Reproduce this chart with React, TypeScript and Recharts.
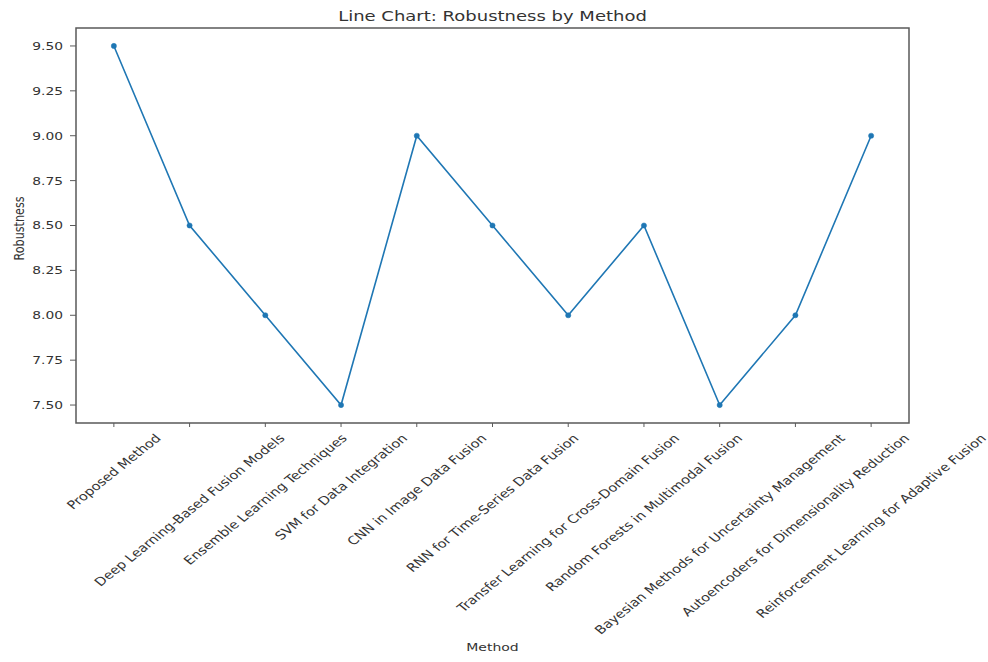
import React from "react";
import {
  LineChart,
  Line,
  XAxis,
  YAxis,
  ReferenceArea,
  Label,
} from "recharts";

// Methods along the x axis, in plotted order
const methods = [
  "Proposed Method",
  "Deep Learning-Based Fusion Models",
  "Ensemble Learning Techniques",
  "SVM for Data Integration",
  "CNN in Image Data Fusion",
  "RNN for Time-Series Data Fusion",
  "Transfer Learning for Cross-Domain Fusion",
  "Random Forests in Multimodal Fusion",
  "Bayesian Methods for Uncertainty Management",
  "Autoencoders for Dimensionality Reduction",
  "Reinforcement Learning for Adaptive Fusion",
];

const robustness = [9.5, 8.5, 8.0, 7.5, 9.0, 8.5, 8.0, 8.5, 7.5, 8.0, 9.0];

const yTicks = [7.5, 7.75, 8.0, 8.25, 8.5, 8.75, 9.0, 9.25, 9.5];

const data = methods.map((name, i) => ({ idx: i, name, robustness: robustness[i] }));
const xTicks = methods.map((_, i) => i);

const FONT = '"DejaVu Sans", Verdana, sans-serif';
const TEXT = "#333";
const FRAME = "#5a5a5a";
const LINE = "#1f77b4";
const XTICK_PX = 14.5;
const YTICK_PX = 13.8;
const LABEL_PX = 14;
const TITLE_PX = 18;
// text is drawn a little flattened vertically
const SQUASH = 0.8;

let measureCtx: CanvasRenderingContext2D | null = null;
function textWidth(s: string, size: number) {
  if (!measureCtx) measureCtx = document.createElement("canvas").getContext("2d");
  if (!measureCtx) return s.length * size * 0.6;
  measureCtx.font = `${size}px ${FONT}`;
  return measureCtx.measureText(s).width;
}

// slanted label whose bounding box is centred on the tick
function SlantTick(props: any) {
  const { x, y, payload } = props;
  const label = methods[payload.value] ?? "";
  const w = textWidth(label, XTICK_PX);
  const boxH = (w + XTICK_PX) * Math.SQRT1_2 * SQUASH;
  const cy = y + boxH / 2;
  return (
    <text
      x={0}
      y={0}
      textAnchor="middle"
      dominantBaseline="central"
      fontFamily={FONT}
      fontSize={XTICK_PX}
      fill={TEXT}
      transform={`translate(${x}, ${cy}) scale(1, ${SQUASH}) rotate(-45)`}
    >
      {label}
    </text>
  );
}

function ValueTick(props: any) {
  const { x, y, payload } = props;
  return (
    <text
      x={0}
      y={0}
      textAnchor="end"
      dominantBaseline="central"
      fontFamily={FONT}
      fontSize={YTICK_PX}
      fill={TEXT}
      transform={`translate(${x}, ${y}) scale(1, ${SQUASH})`}
    >
      {Number(payload.value).toFixed(2)}
    </text>
  );
}

function XTitle(props: any) {
  const { x, y, width, height } = props.viewBox;
  return (
    <text
      x={0}
      y={0}
      textAnchor="middle"
      dominantBaseline="central"
      fontFamily={FONT}
      fontSize={LABEL_PX}
      fill={TEXT}
      transform={`translate(${x + width / 2}, ${y + height - 15}) scale(1, ${SQUASH})`}
    >
      Method
    </text>
  );
}

function YTitle(props: any) {
  const { x, y, height } = props.viewBox;
  return (
    <text
      x={0}
      y={0}
      textAnchor="middle"
      dominantBaseline="central"
      fontFamily={FONT}
      fontSize={LABEL_PX}
      fill={TEXT}
      transform={`translate(${x + 19}, ${y + height / 2 + 3}) scale(1, ${SQUASH}) rotate(-90)`}
    >
      Robustness
    </text>
  );
}

export default function App() {
  return (
    <div style={{ position: "absolute", left: 0, top: 0, width: 988, height: 662, background: "#fff" }}>
      <div
        style={{
          position: "absolute",
          left: 0,
          top: 4,
          width: 985,
          height: 24,
          textAlign: "center",
          fontFamily: FONT,
          fontSize: TITLE_PX,
          lineHeight: "24px",
          color: TEXT,
          transform: `scaleY(${SQUASH})`,
        }}
      >
        Line Chart: Robustness by Method
      </div>
      <LineChart
        width={988}
        height={662}
        data={data}
        margin={{ top: 28, right: 79, bottom: 0, left: 0 }}
      >
        <XAxis
          dataKey="idx"
          type="number"
          domain={[-0.5, 10.5]}
          ticks={xTicks}
          interval={0}
          height={239}
          axisLine={false}
          tickLine={{ stroke: FRAME }}
          tickSize={4}
          tickMargin={5}
          tick={<SlantTick />}
        >
          <Label content={<XTitle />} />
        </XAxis>
        <YAxis
          type="number"
          domain={[7.4, 9.6]}
          ticks={yTicks}
          width={76}
          axisLine={false}
          tickLine={{ stroke: FRAME }}
          tickSize={6}
          tickMargin={7}
          tick={<ValueTick />}
        >
          <Label content={<YTitle />} />
        </YAxis>
        <ReferenceArea
          x1={-0.5}
          x2={10.5}
          y1={7.4}
          y2={9.6}
          fill="none"
          stroke={FRAME}
          strokeWidth={1.5}
          ifOverflow="visible"
        />
        <Line
          type="linear"
          dataKey="robustness"
          stroke={LINE}
          strokeWidth={1.6}
          dot={{ r: 2.6, fill: LINE, stroke: LINE, strokeWidth: 0.5 }}
          activeDot={false}
          isAnimationActive={false}
        />
      </LineChart>
    </div>
  );
}
